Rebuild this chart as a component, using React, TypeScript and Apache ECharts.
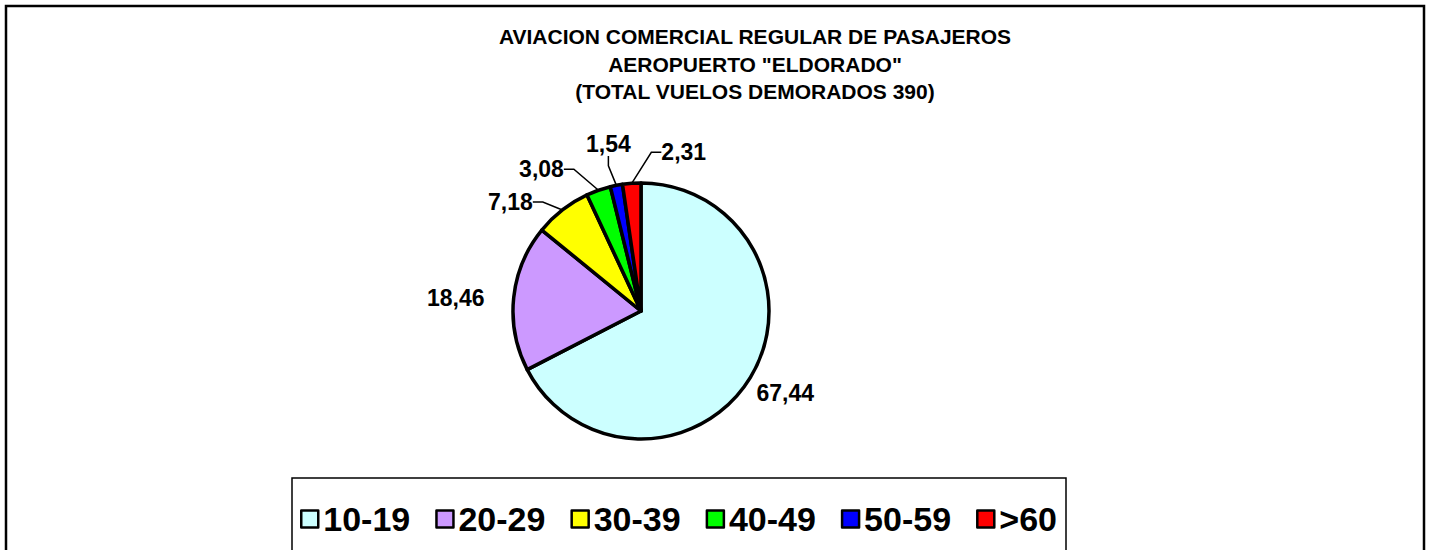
import React, { useEffect, useRef } from "react";
import * as echarts from "echarts";

const titleLines = [
  "AVIACION COMERCIAL REGULAR DE PASAJEROS",
  'AEROPUERTO "ELDORADO"',
  "(TOTAL VUELOS DEMORADOS 390)",
];
const categories = ["10-19", "20-29", "30-39", "40-49", "50-59", ">60"];
const percentages = [67.44, 18.46, 7.18, 3.08, 1.54, 2.31];
const colors = ["#CCFFFF", "#CC99FF", "#FFFF00", "#00FF00", "#0000FF", "#FF0000"];
const showLine = [false, false, true, true, true, true];
// label placement relative to the slice's edge point (layout only)
const labelOffsetX = [35, -58, -52, -57, -8, 52];
const labelOffsetY = [15, 0, -8, -21, -41, -31];

export default function App() {
  const ref = useRef<HTMLDivElement>(null);
  useEffect(() => {
    document.body.style.margin = "0";
    const chart = echarts.init(ref.current!, null, { renderer: "svg" });
    const font = "'Liberation Sans', Arial, sans-serif";
    chart.setOption({
      animation: false,
      backgroundColor: "#ffffff",
      title: {
        text: titleLines.join("\n"),
        left: 750,
        top: 18,
        textAlign: "center",
        textStyle: {
          fontFamily: font,
          fontWeight: "bold",
          fontSize: 21,
          lineHeight: 27.5,
          color: "#000",
        },
      },
      graphic: [
        {
          type: "rect",
          shape: { x: 6, y: 6, width: 1418, height: 560 },
          style: { fill: "none", stroke: "#000", lineWidth: 2.5 },
          silent: true,
        },
        {
          type: "rect",
          shape: { x: 292, y: 478, width: 774, height: 90 },
          style: { fill: "none", stroke: "#000", lineWidth: 1.5 },
          silent: true,
        },
      ],
      legend: {
        data: categories,
        orient: "horizontal",
        left: 295,
        top: 497,
        itemWidth: 17,
        itemHeight: 17,
        itemGap: 25,
        icon: "rect",
        itemStyle: { borderColor: "#000", borderWidth: 2.5 },
        textStyle: {
          fontFamily: font,
          fontWeight: "bold",
          fontSize: 34,
          color: "#000",
        },
      },
      series: [
        {
          type: "pie",
          center: [641, 311],
          radius: 128,
          startAngle: 90,
          clockwise: true,
          avoidLabelOverlap: false,
          itemStyle: { borderColor: "#000", borderWidth: 3.5 },
          label: {
            show: true,
            position: "outside",
            fontFamily: font,
            fontWeight: "bold",
            fontSize: 23,
            color: "#000",
            formatter: (p: any) => p.value.toFixed(2).replace(".", ","),
          },
          labelLine: {
            show: true,
            length: 8,
            length2: 10,
            lineStyle: { color: "#000", width: 1.5 },
          },
          labelLayout: (params: any) => {
            const i = params.dataIndex;
            const anchor = params.labelLinePoints
              ? params.labelLinePoints[0]
              : [params.labelRect.x, params.labelRect.y];
            return {
              x: anchor[0] + labelOffsetX[i],
              y: anchor[1] + labelOffsetY[i],
              align: "center",
              verticalAlign: "middle",
            };
          },
          emphasis: { disabled: true },
          data: categories.map((c, i) => ({
            name: c,
            value: percentages[i],
            itemStyle: { color: colors[i] },
            labelLine: { show: showLine[i] },
          })),
        },
      ],
    });
    return () => chart.dispose();
  }, []);
  return <div ref={ref} style={{ width: 1432, height: 550 }} />;
}
